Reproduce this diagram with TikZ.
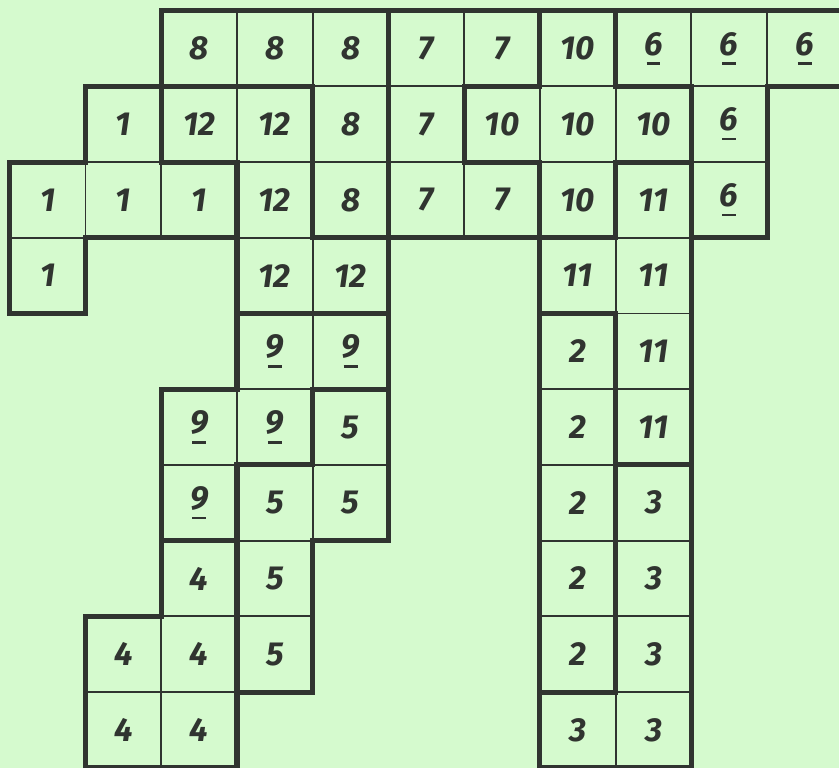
\documentclass[tikz,border=0pt]{standalone}
\usepackage{fontspec}
\setmainfont{Fira Sans}
\definecolor{paper}{RGB}{213,250,206}
\definecolor{ink}{RGB}{48,52,48}
\tikzset{
  cell/.style={draw=ink, line width=0.7pt, minimum size=1cm, inner sep=0pt, text=ink,
    font=\fontsize{12.5}{14}\selectfont\bfseries\itshape},
  region/.style={draw=ink, line width=1.9pt, line join=miter},
}
\newcommand{\ul}[1]{\setbox0\hbox{#1}\vtop{\offinterlineskip\copy0\kern2.5pt\hbox to\wd0{\hss\rule{0.42em}{0.9pt}\hss}}}
\begin{document}
\begin{tikzpicture}
\fill[paper] (-0.13,0.14) rectangle (10.95,-10.0);
\clip (-0.13,0.14) rectangle (10.95,-10.0);
% cells: row/column/number
\foreach \r/\c/\v in {0/2/8, 0/3/8, 0/4/8, 0/5/7, 0/6/7, 0/7/10, 0/8/{\ul{6}}, 0/9/{\ul{6}}, 0/10/{\ul{6}},
    1/1/1, 1/2/12, 1/3/12, 1/4/8, 1/5/7, 1/6/10, 1/7/10, 1/8/10, 1/9/{\ul{6}},
    2/0/1, 2/1/1, 2/2/1, 2/3/12, 2/4/8, 2/5/7, 2/6/7, 2/7/10, 2/8/11, 2/9/{\ul{6}},
    3/0/1, 3/3/12, 3/4/12, 3/7/11, 3/8/11,
    4/3/{\ul{9}}, 4/4/{\ul{9}}, 4/7/2, 4/8/11,
    5/2/{\ul{9}}, 5/3/{\ul{9}}, 5/4/5, 5/7/2, 5/8/11,
    6/2/{\ul{9}}, 6/3/5, 6/4/5, 6/7/2, 6/8/3,
    7/2/4, 7/3/5, 7/7/2, 7/8/3,
    8/1/4, 8/2/4, 8/3/5, 8/7/2, 8/8/3,
    9/1/4, 9/2/4, 9/7/3, 9/8/3}
  \node[cell] (r\r c\c) at (\c+0.5,-\r-0.5) {\v};
% region outlines
\draw[region] (2,0) -- (5,0) -- (5,-3) -- (4,-3) -- (4,-1) -- (2,-1) -- cycle; % 8
\draw[region] (5,0) -- (7,0) -- (7,-1) -- (6,-1) -- (6,-2) -- (7,-2) -- (7,-3) -- (5,-3) -- cycle; % 7
\draw[region] (7,0) -- (8,0) -- (8,-1) -- (9,-1) -- (9,-2) -- (8,-2) -- (8,-3) -- (7,-3) -- (7,-2) -- (6,-2) -- (6,-1) -- (7,-1) -- cycle; % 10
\draw[region] (8,0) -- (11,0) -- (11,-1) -- (10,-1) -- (10,-3) -- (9,-3) -- (9,-1) -- (8,-1) -- cycle; % 6
\draw[region] (1,-1) -- (2,-1) -- (2,-2) -- (3,-2) -- (3,-3) -- (1,-3) -- (1,-4) -- (0,-4) -- (0,-2) -- (1,-2) -- cycle; % 1
\draw[region] (2,-1) -- (4,-1) -- (4,-3) -- (5,-3) -- (5,-4) -- (3,-4) -- (3,-2) -- (2,-2) -- cycle; % 12
\draw[region] (8,-2) -- (9,-2) -- (9,-6) -- (8,-6) -- (8,-4) -- (7,-4) -- (7,-3) -- (8,-3) -- cycle; % 11
\draw[region] (3,-4) -- (5,-4) -- (5,-5) -- (4,-5) -- (4,-6) -- (3,-6) -- (3,-7) -- (2,-7) -- (2,-5) -- (3,-5) -- cycle; % 9
\draw[region] (4,-5) -- (5,-5) -- (5,-7) -- (4,-7) -- (4,-9) -- (3,-9) -- (3,-6) -- (4,-6) -- cycle; % 5
\draw[region] (2,-7) -- (3,-7) -- (3,-10) -- (1,-10) -- (1,-8) -- (2,-8) -- cycle; % 4
\draw[region] (7,-4) -- (8,-4) -- (8,-9) -- (7,-9) -- cycle; % 2
\draw[region] (8,-6) -- (9,-6) -- (9,-10) -- (7,-10) -- (7,-9) -- (8,-9) -- cycle; % 3
\end{tikzpicture}
\end{document}
